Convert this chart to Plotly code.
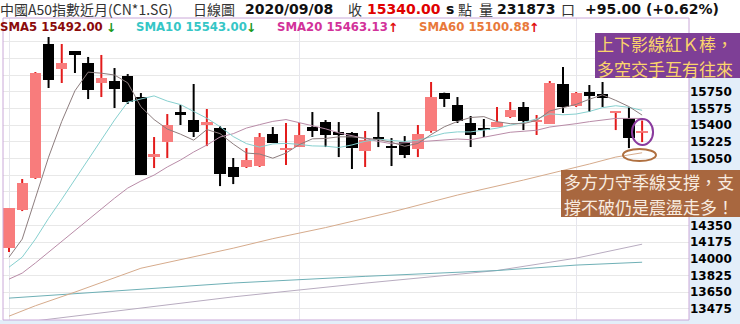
import plotly.graph_objects as go

# ---------------- data ----------------
idx = list(range(49))
opens = [14111, 14510, 14845, 16250, 15988, 16177, 16051, 15841, 15862, 15915,
         15694, 15065, 15222, 15537, 15453, 15401, 15369, 14961, 14961, 14971,
         15306, 15138, 15170, 15380, 15432, 15327, 15317, 15128, 15275, 15180,
         15222, 15149, 15338, 15736, 15610, 15422, 15369, 15380, 15485, 15590,
         15432, 15411, 15831, 15600, 15747, 15726, 15527, 15474, 15320]
highs = [14531, 14835, 15956, 16323, 16250, 16177, 16114, 16135, 15998, 15935,
         15736, 15275, 15516, 15610, 15831, 15569, 15390, 15055, 15159, 15317,
         15380, 15422, 15422, 15537, 15453, 15432, 15327, 15338, 15537, 15264,
         15285, 15401, 15852, 15740, 15694, 15495, 15464, 15590, 15642, 15642,
         15506, 15862, 16009, 15747, 15820, 15852, 15548, 15590, 15448]
lows = [14069, 14499, 14835, 15789, 15841, 15946, 15673, 15694, 15579, 15621,
        14877, 14950, 15055, 15401, 15275, 15180, 14761, 14782, 14950, 14961,
        15212, 14982, 15170, 15275, 15170, 15065, 14940, 14961, 15170, 14971,
        15055, 15065, 15320, 15590, 15422, 15170, 15275, 15380, 15474, 15348,
        15296, 15411, 15527, 15590, 15537, 15590, 15348, 15159, 15222]
closes = [14531, 14793, 15946, 15873, 16051, 16135, 15768, 15894, 15778, 15642,
          14877, 15097, 15401, 15506, 15327, 15432, 14887, 14856, 15034, 15275,
          15212, 15159, 15296, 15338, 15296, 15296, 15159, 15240, 15254, 15159,
          15086, 15306, 15694, 15673, 15443, 15296, 15348, 15432, 15558, 15443,
          15458, 15841, 15590, 15736, 15710, 15689, 15548, 15264, 15340]

sma5 = [14016, 14205, 14634, 15064, 15439, 15760, 15955, 15944, 15925, 15843,
        15592, 15458, 15359, 15305, 15242, 15353, 15311, 15202, 15107, 15097,
        15053, 15107, 15195, 15256, 15260, 15277, 15277, 15264, 15248, 15220,
        15178, 15208, 15300, 15382, 15438, 15480, 15489, 15436, 15415, 15415,
        15449, 15548, 15579, 15617, 15671, 15717, 15659, 15594, 15505]
sma10 = [13911, 14016, 14205, 14423, 14623, 14833, 15043, 15253, 15453, 15641,
         15676, 15706, 15652, 15615, 15543, 15472, 15384, 15280, 15206, 15169,
         15203, 15209, 15198, 15182, 15179, 15165, 15192, 15230, 15252, 15240,
         15228, 15242, 15282, 15315, 15329, 15329, 15348, 15368, 15399, 15427,
         15465, 15518, 15508, 15516, 15543, 15583, 15603, 15586, 15555]
sma20 = [13786, 13849, 13955, 14069, 14185, 14290, 14405, 14520, 14634, 14740,
         14814, 14876, 14961, 15034, 15118, 15191, 15275, 15310, 15369, 15405,
         15439, 15458, 15425, 15398, 15361, 15319, 15288, 15255, 15229, 15205,
         15215, 15226, 15240, 15248, 15254, 15247, 15270, 15299, 15325, 15334,
         15346, 15380, 15395, 15415, 15436, 15456, 15470, 15470, 15470]
sma60_x = [0, 2, 5, 10, 17, 20, 24, 29, 34, 39, 44, 46, 48]
sma60_y = [13398, 13507, 13650, 13900, 14110, 14210, 14326, 14488, 14667, 14824,
           14992, 15065, 15110]
ma_long1_x = [0, 17, 27, 37, 43, 48]
ma_long1_y = [13587, 13745, 13815, 13876, 13933, 13963]
ma_long2_x = [0, 3, 17, 27, 37, 43, 48]
ma_long2_y = [13315, 13366, 13600, 13744, 13876, 14006, 14152]

month_starts = [0, 22, 43]
y_ticks = [13475, 13650, 13825, 14000, 14175, 14350, 14525, 14700, 14875,
           15050, 15225, 15400, 15575, 15750, 15925, 16100, 16275]
# labels hidden behind the comment boxes in the reference
y_tick_text = ["13475", "13650", "13825", "14000", "14175", "14350", "", "", "",
               "15050", "15225", "15400", "15575", "15750", "", "", ""]

# ---------------- geometry helpers (pixel -> paper) ----------------
W, H = 740, 324
PL, PR, PT, PB = 3, 689, 18, 320


def px(x):
    return (x - PL) / (PR - PL)


def py(y):
    return (PB - y) / (PB - PT)


UP_FILL = "#f87c7c"
UP_WICK = "#e31b1b"
DN = "#000000"

up = [i for i in idx if closes[i] >= opens[i]]
dn = [i for i in idx if closes[i] < opens[i]]


def wick_xy(sel):
    xs, ys = [], []
    for i in sel:
        top = max(opens[i], closes[i])
        bot = min(opens[i], closes[i])
        xs += [i, i, None, i, i, None]
        ys += [highs[i], top, None, bot, lows[i], None]
    return xs, ys


fig = go.Figure()

fig.add_trace(go.Bar(x=up, y=[closes[i] - opens[i] for i in up], base=[opens[i] for i in up],
                     width=0.86, marker=dict(color=UP_FILL, line=dict(width=0)), hoverinfo="skip"))
fig.add_trace(go.Bar(x=dn, y=[opens[i] - closes[i] for i in dn], base=[closes[i] for i in dn],
                     width=0.86, marker=dict(color=DN, line=dict(width=0)), hoverinfo="skip"))

wx, wy = wick_xy(up)
fig.add_trace(go.Scatter(x=wx, y=wy, mode="lines", line=dict(color=UP_WICK, width=2), hoverinfo="skip"))
wx, wy = wick_xy(dn)
fig.add_trace(go.Scatter(x=wx, y=wy, mode="lines", line=dict(color=DN, width=2), hoverinfo="skip"))

fig.add_trace(go.Scatter(x=ma_long2_x, y=ma_long2_y, mode="lines", line=dict(color="#b8acc0", width=1)))
fig.add_trace(go.Scatter(x=ma_long1_x, y=ma_long1_y, mode="lines", line=dict(color="#6fb0b6", width=1)))
fig.add_trace(go.Scatter(x=sma60_x, y=sma60_y, mode="lines", line=dict(color="#d6ab8c", width=1)))
fig.add_trace(go.Scatter(x=idx, y=sma20, mode="lines", line=dict(color="#b98ca8", width=1)))
fig.add_trace(go.Scatter(x=idx, y=sma10, mode="lines", line=dict(color="#86d0cf", width=1)))
fig.add_trace(go.Scatter(x=idx, y=sma5, mode="lines", line=dict(color="#8d7d7e", width=1)))

x_lo = (PL - 9) / 13.19
x_hi = (PR - 9) / 13.19
y_per_px = 175 / 16.7
y_lo = 15750 - (PB - 91.7) * y_per_px
y_hi = 15750 + (91.7 - PT) * y_per_px

fig.update_layout(
    width=W, height=H, autosize=False,
    margin=dict(l=PL, r=W - PR, t=PT, b=H - PB),
    paper_bgcolor="white", plot_bgcolor="white",
    showlegend=False, barmode="overlay", bargap=0,
    xaxis=dict(range=[x_lo, x_hi], tickvals=month_starts, showticklabels=False,
               showgrid=True, gridcolor="#e6e6ee", gridwidth=1, zeroline=False,
               showline=False, ticks="", fixedrange=True),
    yaxis=dict(range=[y_lo, y_hi], side="right", tickvals=y_ticks,
               ticktext=y_tick_text,
               showgrid=True, gridcolor="#e8e8e8", gridwidth=1, zeroline=False,
               showline=False, ticks="", ticklen=0,
               tickfont=dict(family="DejaVu Sans", size=12, color="#000", weight="bold")),
)

shapes = [
    dict(type="rect", xref="paper", yref="paper", x0=px(PR), x1=px(W), y0=py(H), y1=py(34),
         fillcolor="#e3eef9", line=dict(width=0), layer="below"),
    dict(type="rect", xref="paper", yref="paper", x0=px(0), x1=px(W), y0=py(H), y1=py(PB),
         fillcolor="#e3eef9", line=dict(width=0), layer="below"),
    dict(type="rect", xref="paper", yref="paper", x0=0, x1=1, y0=0, y1=1,
         line=dict(color="#caa8d8", width=1), fillcolor="rgba(0,0,0,0)", layer="above"),
    dict(type="rect", xref="paper", yref="paper", x0=px(595), x1=px(W), y0=py(78), y1=py(33),
         fillcolor="#7e3f96", line=dict(width=0), layer="above"),
    dict(type="rect", xref="paper", yref="paper", x0=px(561), x1=px(W), y0=py(217), y1=py(170),
         fillcolor="#a8673f", line=dict(width=0), layer="above"),
    dict(type="circle", xref="x", yref="y", x0=47.23, x1=48.83, y0=15191, y1=15464,
         line=dict(color="#8a3a9e", width=2), layer="above"),
    dict(type="circle", xref="x", yref="y", x0=46.55, x1=49.05, y0=15023, y1=15149,
         line=dict(color="#b07040", width=2), layer="above"),
]
fig.update_layout(shapes=shapes)

CJK = "Noto Sans CJK TC"
SANS = "DejaVu Sans"


def label(x, y, text, family, size, color, bold=False):
    t = f"<b>{text}</b>" if bold else text
    fig.add_annotation(xref="paper", yref="paper", x=px(x), y=py(y), text=t,
                       xanchor="left", yanchor="middle", align="left", showarrow=False,
                       borderpad=0, borderwidth=0,
                       font=dict(family=family, size=size, color=color))


# header line
label(0, 9, "中國A50指數近月(CN*1.SG)", CJK, 14, "#333333")
label(193, 9, "日線圖", CJK, 14, "#333333")
label(245, 9, "2020/09/08", SANS, 14, "#111111", True)
label(348, 9, "收", CJK, 14, "#333333")
label(367, 9, "15340.00", SANS, 14, "#e00000", True)
label(446, 9, "s", SANS, 14, "#111111", True)
label(458, 9, "點", CJK, 14, "#333333")
label(479, 9, "量", CJK, 14, "#333333")
label(497, 9, "231873", SANS, 14, "#111111", True)
label(561, 9, "口", CJK, 14, "#333333")
label(585, 9, "+95.00 (+0.62%)", SANS, 14, "#111111", True)

# SMA legend row
label(0, 27, "SMA5 15492.00", SANS, 11.7, "#8b0b0b", True)
label(106, 27, "↓", SANS, 12.5, "#1c9a1c", True)
label(136, 27, "SMA10 15543.00", SANS, 11.7, "#35c6c6", True)
label(246, 27, "↓", SANS, 12.5, "#1c9a1c", True)
label(277, 27, "SMA20 15463.13", SANS, 11.7, "#d2329a", True)
label(388, 27, "↑", SANS, 12.5, "#e01010", True)
label(419, 27, "SMA60 15100.88", SANS, 11.7, "#e8793a", True)
label(529, 27, "↑", SANS, 12.5, "#e01010", True)

# commentary boxes
label(597, 43.5, "上下影線紅Ｋ棒，", CJK, 17, "#fbd46c")
label(597, 68.5, "多空交手互有往來", CJK, 17, "#fbd46c")
label(564, 181, "多方力守季線支撐，支", CJK, 17, "#f8ece0")
label(564, 206, "撐不破仍是震盪走多！", CJK, 17, "#f8ece0")

fig.write_html("out.html")
